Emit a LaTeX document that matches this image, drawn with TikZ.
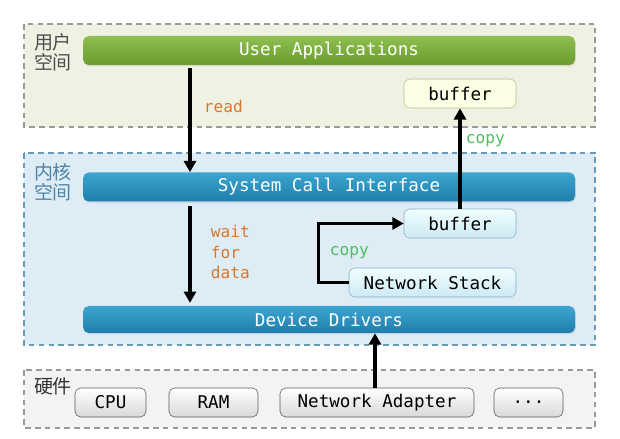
\documentclass[tikz,border=0pt]{standalone}
\usepackage{fontspec}
\setmonofont{DejaVu Sans Mono}
\newfontfamily\cjk{Noto Sans CJK SC}
\usepackage{tikz}
\usetikzlibrary{arrows.meta, positioning, shadows}
\usepackage{xcolor}
\definecolor{userbg}{RGB}{239,241,227}
\definecolor{kernbg}{RGB}{222,237,245}
\definecolor{hwbg}{RGB}{243,243,243}
\definecolor{greentop}{RGB}{142,191,80}
\definecolor{greenbot}{RGB}{106,156,45}
\definecolor{bluetop}{RGB}{60,165,208}
\definecolor{bluebot}{RGB}{30,126,172}
\definecolor{kernline}{RGB}{104,155,186}
\definecolor{orangetxt}{RGB}{214,120,48}
\definecolor{greentxt}{RGB}{76,190,96}
\definecolor{kerntxt}{RGB}{80,132,166}
\newcommand{\pxu}{0.025cm}

\tikzset{
  region/.style={dashed, line width=0.8pt, dash pattern=on 4pt off 3pt},
  greenbar/.style={rounded corners=4pt, top color=greentop, bottom color=greenbot,
    text=white, minimum width=492*\pxu, minimum height=29*\pxu,
    drop shadow={opacity=0.2, shadow xshift=0.6pt, shadow yshift=-1pt}},
  bluebar/.style={greenbar, top color=bluetop, bottom color=bluebot},
  userbuf/.style={draw=greenbot!60, rounded corners=4pt, fill=green!8!yellow!10,
    minimum width=112*\pxu, minimum height=29*\pxu},
  kernbuf/.style={draw=kernline!80, rounded corners=4pt, top color=blue!4!cyan!6, bottom color=bluetop!25,
    minimum width=112*\pxu, minimum height=29*\pxu},
  hwbox/.style={draw=black!65, rounded corners=4pt, top color=white, bottom color=black!15,
    minimum height=29*\pxu},
  flow/.style={line width=2.3pt, -{Triangle[length=8pt, width=8.5pt]}},
  tag/.style={anchor=west, font=\ttfamily\fontsize{11.5}{14.5}\selectfont, align=left},
  zone/.style={font=\cjk\fontsize{13.5}{14}\selectfont, align=center}
}

\begin{document}
\begin{tikzpicture}[x=\pxu, y=-\pxu, font=\ttfamily\fontsize{12.5}{14}\selectfont]
  \useasboundingbox (0,0) rectangle (620,439);

  % regions
  \draw[region, draw=black!40, fill=userbg] (24,24) rectangle (595,127);
  \draw[region, draw=kernline, fill=kernbg] (24,153) rectangle (595,345);
  \draw[region, draw=black!40, fill=hwbg] (24,370) rectangle (595,428);

  \node[zone, text=black!70] (userlbl) at (53,52) {用户\\空间};
  \node[zone, text=kerntxt] (kernlbl) at (53,182) {内核\\空间};
  \node[zone, text=black!80] (hwlbl) at (53,386) {硬件};

  % user space
  \node[greenbar] (userapp) at (329,50.5) {User Applications};
  \node[userbuf] (ubuf) at (460,93.5) {buffer};

  % kernel space
  \node[bluebar] (sci) at (329,187) {System Call Interface};
  \node[kernbuf] (kbuf) at (460,223.5) {buffer};
  \node[kernbuf, minimum width=167*\pxu] (netstack) at (432.5,282.5) {Network Stack};
  \node[bluebar, minimum height=27*\pxu] (drivers) at (329,319.5) {Device Drivers};

  % hardware
  \node[hwbox, minimum width=71*\pxu] (cpu) at (110.5,402.5) {CPU};
  \node[hwbox, minimum width=89*\pxu] (ram) at (213.5,402.5) {RAM};
  \node[hwbox, minimum width=194*\pxu] (adapter) at (377,402.5) {Network Adapter};
  \node[hwbox, minimum width=69*\pxu] (more) at (528.5,402.5) {...};

  % read path
  \coordinate (readx) at (190,0);
  \draw[flow, shorten <=2pt] (userapp.south -| readx) -- (sci.north -| readx);
  \node[tag, text=orangetxt] (readlbl) at (199,106) {read};
  \draw[flow, shorten <=3pt, shorten >=2pt] (sci.south -| readx) -- (drivers.north -| readx);
  \node[tag, text=orangetxt] (waitlbl) at (206,252) {wait\\for\\data};

  % data path
  \draw[flow] (adapter.north -| 375,0) -- (drivers.south -| 375,0);
  \draw[flow] (netstack.west) -- ++(-30,0) |- (kbuf.west);
  \node[tag, text=greentxt] (copylow) at (325,253) {copy};
  \draw[flow] (kbuf.north) -- (ubuf.south);
  \node[tag, text=greentxt] (copyhigh) at (461,141) {copy};
\end{tikzpicture}
\end{document}
